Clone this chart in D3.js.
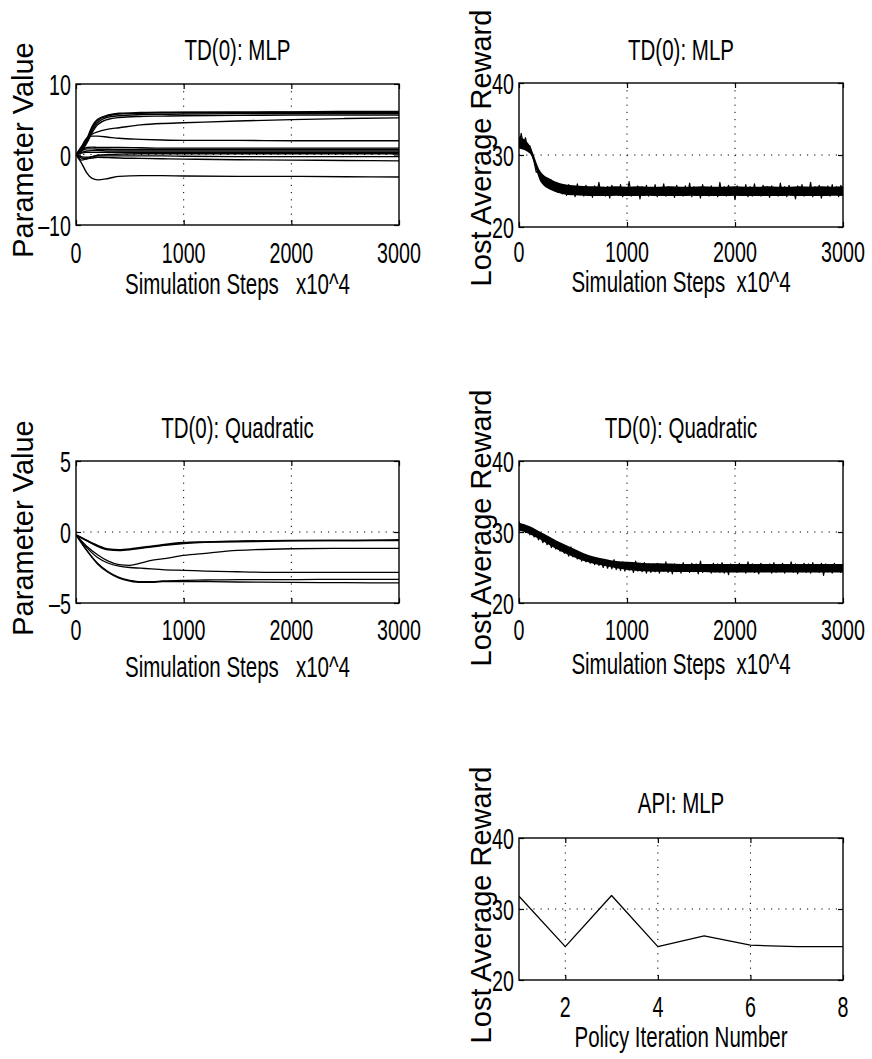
<!DOCTYPE html>
<html><head><meta charset="utf-8">
<script src="https://cdn.jsdelivr.net/npm/d3@7"></script>
<style>body{margin:0;background:#fff} svg{display:block}</style>
</head><body>
<svg id="c" width="872" height="1059"></svg>
<script>
// ---------------- DATA ----------------
const paramSteps = [0, 50, 100, 150, 200, 300, 400, 600, 800, 1000, 1500, 2000, 2500, 3000];
const mlpParams = [
  [0, 0.8, 2.2, 4.0, 5.0, 5.6, 5.85, 5.95, 6.0, 6.0, 6.0, 6.05, 6.1, 6.1],
  [0, 0.7, 2.0, 3.7, 4.8, 5.5, 5.75, 5.85, 5.9, 5.95, 6.0, 6.0, 6.0, 6.0],
  [0, 0.6, 1.8, 3.4, 4.5, 5.3, 5.5, 5.65, 5.7, 5.75, 5.8, 5.85, 5.85, 5.85],
  [0, 0.5, 1.6, 3.1, 4.2, 5.0, 5.25, 5.4, 5.45, 5.5, 5.55, 5.6, 5.6, 5.6],
  [0, 0.7, 2.3, 2.9, 3.2, 3.6, 3.8, 4.2, 4.4, 4.5, 4.75, 4.95, 5.1, 5.2],
  [0, 1.1, 2.3, 2.6, 2.6, 2.45, 2.3, 2.15, 2.05, 2.0, 2.0, 1.95, 1.95, 1.95],
  [0, 0.6, 1.0, 1.05, 1.0, 1.0, 1.0, 0.95, 0.9, 0.9, 0.9, 0.9, 0.9, 0.9],
  [0, 0.5, 0.8, 0.8, 0.75, 0.75, 0.7, 0.7, 0.7, 0.7, 0.7, 0.7, 0.7, 0.7],
  [0, 0.3, 0.5, 0.55, 0.55, 0.5, 0.5, 0.5, 0.5, 0.5, 0.5, 0.5, 0.5, 0.5],
  [0, 0.2, 0.3, 0.3, 0.3, 0.3, 0.3, 0.3, 0.3, 0.3, 0.3, 0.3, 0.3, 0.3],
  [0, -0.8, -0.6, -0.3, -0.1, 0.0, 0.05, 0.1, 0.1, 0.1, 0.1, 0.1, 0.1, 0.1],
  [0, -0.3, -0.4, -0.3, -0.2, -0.2, -0.2, -0.2, -0.2, -0.25, -0.3, -0.3, -0.3, -0.3],
  [0, -0.5, -0.6, -0.5, -0.4, -0.45, -0.5, -0.55, -0.6, -0.65, -0.75, -0.8, -0.85, -0.9],
  [0, -1.2, -2.6, -3.4, -3.6, -3.4, -3.1, -3.0, -3.0, -3.05, -3.1, -3.1, -3.15, -3.2]
];

const quadSteps = [0, 100, 200, 300, 400, 500, 600, 700, 800, 1000, 1200, 1500, 2000, 2500, 3000];
const quadParams = [
  [-0.2, -0.6, -0.95, -1.2, -1.25, -1.2, -1.1, -1.0, -0.9, -0.75, -0.7, -0.65, -0.6, -0.6, -0.55],
  [-0.2, -0.6, -1.0, -1.25, -1.3, -1.25, -1.15, -1.05, -0.95, -0.8, -0.72, -0.68, -0.62, -0.6, -0.6],
  [-0.2, -1.0, -1.6, -2.05, -2.3, -2.35, -2.2, -2.0, -1.9, -1.65, -1.5, -1.3, -1.18, -1.15, -1.15],
  [-0.2, -1.1, -1.8, -2.2, -2.4, -2.5, -2.55, -2.6, -2.65, -2.7, -2.75, -2.8, -2.85, -2.85, -2.85],
  [-0.2, -1.3, -2.2, -2.8, -3.2, -3.4, -3.5, -3.5, -3.45, -3.4, -3.38, -3.35, -3.35, -3.33, -3.33],
  [-0.2, -1.3, -2.25, -2.85, -3.25, -3.45, -3.55, -3.55, -3.5, -3.5, -3.5, -3.52, -3.55, -3.57, -3.58]
];

// noisy reward traces: sampled every 20 steps
const rewardStepInterval = 20;
const mlpReward = [
  31.2, 33.0, 31.5, 32.4, 30.9, 31.3, 30.2, 29.0, 27.6, 27.9,
  26.4, 27.2, 25.9, 26.8, 25.4, 26.5, 25.2, 26.1, 24.8, 25.9, 24.6,
  25.7, 24.4, 25.9, 24.5, 25.6, 24.2, 26.0, 24.6, 25.5, 24.3,
  25.8, 24.5, 25.4, 24.1, 25.7, 24.6, 26.2, 24.4, 25.5, 24.3,
  25.6, 24.0, 25.8, 24.5, 25.3, 24.4, 25.9, 24.2, 25.5, 24.6,
  26.3, 24.3, 25.4, 24.5, 25.7, 23.9, 25.6, 24.4, 25.8, 24.3,
  25.5, 24.6, 25.9, 24.2, 25.4, 24.5, 26.0, 24.3, 25.6, 24.4,
  25.5, 24.1, 25.8, 24.6, 25.3, 24.3, 25.7, 24.5, 26.1, 24.2,
  25.6, 24.4, 25.5, 24.0, 25.9, 24.5, 25.4, 24.3, 25.7, 24.6,
  25.5, 24.2, 26.2, 24.4, 25.6, 24.3, 25.8, 24.5, 25.4, 23.8,
  25.7, 24.4, 25.5, 24.6, 25.9, 24.2, 25.6, 24.3, 26.0, 24.5,
  25.4, 24.3, 25.8, 24.4, 25.6, 24.1, 25.7, 24.5, 25.5, 24.3,
  26.1, 24.4, 25.6, 24.2, 25.8, 24.6, 25.4, 23.9, 25.7, 24.4,
  25.9, 24.3, 25.5, 24.5, 26.2, 24.2, 25.6, 24.4, 25.8, 24.0,
  25.5, 24.4, 25.7, 24.3, 25.9, 24.5, 25.6, 24.2, 25.8, 24.4
];
const quadReward = [
  31.5, 30.2, 31.0, 29.9, 30.6, 29.6, 30.3, 29.3, 30.0, 28.9,
  29.5, 28.5, 29.2, 28.2, 28.8, 27.8, 28.6, 27.6, 28.3, 27.3,
  28.0, 27.0, 27.7, 26.6, 27.9, 26.5, 27.2, 26.2, 26.9, 25.9,
  26.8, 25.8, 26.5, 25.6, 26.3, 25.4, 26.2, 25.3, 25.9, 25.0,
  25.9, 24.9, 25.7, 24.8, 26.1, 24.7, 25.6, 24.6, 25.8, 24.5,
  25.6, 24.6, 25.4, 24.3, 25.9, 24.5, 25.5, 24.4, 25.7, 24.2,
  25.5, 24.3, 25.4, 24.4, 25.6, 24.2, 25.3, 24.5, 25.8, 24.3,
  25.4, 24.1, 25.5, 24.4, 25.3, 24.2, 25.7, 24.5, 25.4, 24.3,
  25.6, 24.4, 25.5, 24.1, 25.9, 24.3, 25.4, 24.5, 25.3, 24.2,
  25.6, 24.4, 25.5, 24.3, 25.7, 24.2, 25.4, 24.0, 25.5, 24.4,
  25.3, 24.3, 25.6, 24.5, 25.4, 24.2, 25.8, 24.4, 25.5, 24.3,
  25.4, 24.1, 25.6, 24.4, 25.3, 24.5, 25.5, 24.2, 25.7, 24.3,
  25.4, 24.4, 25.6, 24.2, 25.3, 24.5, 25.8, 24.3, 25.5, 24.1,
  25.4, 24.4, 25.6, 24.3, 25.5, 24.2, 25.7, 24.4, 25.4, 24.3,
  25.6, 23.9, 25.5, 24.4, 25.3, 24.2, 25.6, 24.5, 25.4, 24.3,
  25.5
];
// dense core of the noisy traces (low / high edge), sampled every 100 steps
const envelopeStepInterval = 100;
const mlpRewardLo = [30.9, 30.2, 26.3, 25.1, 24.6, 24.4, 24.35, 24.3, 24.3, 24.35, 24.3, 24.3, 24.35, 24.3, 24.3, 24.3, 24.35, 24.3, 24.3, 24.3, 24.35, 24.3, 24.3, 24.3, 24.3, 24.35, 24.3, 24.3, 24.3, 24.35, 24.3];
const mlpRewardHi = [32.6, 31.3, 27.7, 26.6, 26.0, 25.8, 25.7, 25.65, 25.6, 25.65, 25.6, 25.65, 25.6, 25.6, 25.65, 25.6, 25.6, 25.65, 25.6, 25.6, 25.65, 25.6, 25.6, 25.65, 25.6, 25.6, 25.65, 25.6, 25.65, 25.6, 25.65];
const quadRewardLo = [30.2, 29.7, 28.9, 28.0, 27.2, 26.5, 25.9, 25.5, 25.2, 24.9, 24.7, 24.5, 24.45, 24.4, 24.4, 24.35, 24.35, 24.35, 24.3, 24.3, 24.3, 24.3, 24.3, 24.3, 24.3, 24.3, 24.3, 24.3, 24.3, 24.3, 24.3];
const quadRewardHi = [31.3, 30.8, 30.0, 29.2, 28.4, 27.7, 27.0, 26.5, 26.2, 25.9, 25.8, 25.7, 25.6, 25.6, 25.55, 25.5, 25.5, 25.5, 25.5, 25.5, 25.5, 25.5, 25.5, 25.5, 25.5, 25.5, 25.5, 25.5, 25.5, 25.5, 25.5];

const apiIterations = [1, 2, 3, 4, 5, 6, 7, 8];
const apiReward = [31.8, 24.7, 31.9, 24.7, 26.2, 24.9, 24.7, 24.7];

const stepTicks = [0, 1000, 2000, 3000];
const mlpParamTicks = [-10, 0, 10];
const quadParamTicks = [-5, 0, 5];
const rewardTicks = [20, 30, 40];
const iterTicks = [2, 4, 6, 8];

const titles = ["TD(0): MLP", "TD(0): MLP", "TD(0): Quadratic", "TD(0): Quadratic", "API: MLP"];
const xLabels = ["Simulation Steps   x10^4", "Simulation Steps  x10^4", "Simulation Steps   x10^4", "Simulation Steps  x10^4", "Policy Iteration Number"];
const yLabels = ["Parameter Value", "Lost Average Reward", "Parameter Value", "Lost Average Reward", "Lost Average Reward"];

// ---------------- DRAWING ----------------
const svg = d3.select("#c");
const REG = "'Liberation Sans',Arial,Helvetica,sans-serif";
const fmt = v => (v < 0 ? "\u2013" : "") + Math.abs(v);

// condensed, tall text like the original figure's Helvetica-Narrow labels
function stretchedText(parent, x, y, str, anchor, size) {
  return parent.append("text")
    .attr("transform", `translate(${x},${y}) scale(0.82,1.2)`)
    .attr("text-anchor", anchor)
    .style("font-family", REG)
    .style("font-size", size + "px")
    .style("white-space", "pre")
    .attr("fill", "#000")
    .text(str);
}

function drawPanel(o) {
  const x = d3.scaleLinear().domain(o.xDomain).range([o.l, o.r]);
  const y = d3.scaleLinear().domain(o.yDomain).range([o.b, o.t]);
  const g = svg.append("g");
  const cid = "clip" + o.id;
  svg.append("clipPath").attr("id", cid).append("rect")
    .attr("x", o.l).attr("y", o.t).attr("width", o.r - o.l).attr("height", o.b - o.t);

  // dotted grid
  const grid = g.append("g").attr("stroke", "#000").attr("stroke-width", 1)
    .attr("stroke-dasharray", "1.2,6");
  o.xGrid.forEach(v => grid.append("line").attr("x1", x(v)).attr("x2", x(v)).attr("y1", o.t).attr("y2", o.b));
  o.yGrid.forEach(v => grid.append("line").attr("y1", y(v)).attr("y2", y(v)).attr("x1", o.l).attr("x2", o.r));

  const pg = g.append("g").attr("clip-path", `url(#${cid})`);
  // dense core band of noisy traces
  (o.bands || []).forEach(bd => {
    const pts = bd.lo.map((v, i) => [bd.xs[i], v, bd.hi[i]]);
    pg.append("path").datum(pts)
      .attr("d", d3.area().x(d => x(d[0])).y0(d => y(d[1])).y1(d => y(d[2])).curve(d3.curveMonotoneX))
      .attr("fill", "#000");
  });
  // series
  o.series.forEach(s => {
    const pts = s.values.map((v, i) => [s.xs[i], v]);
    pg.append("path").datum(pts)
      .attr("d", d3.line().x(d => x(d[0])).y(d => y(d[1])).curve(s.curve || d3.curveLinear))
      .attr("fill", "none").attr("stroke", s.color || "#000")
      .attr("stroke-width", s.width || 1.2).attr("stroke-linejoin", "round");
  });

  // inward ticks on all four sides
  const tk = 5;
  const axB = g.append("g").attr("transform", `translate(0,${o.b})`).call(d3.axisBottom(x).tickValues(o.xTicks).tickSize(-tk).tickFormat(""));
  const axT = g.append("g").attr("transform", `translate(0,${o.t})`).call(d3.axisTop(x).tickValues(o.xTicks).tickSize(-tk).tickFormat(""));
  const axL = g.append("g").attr("transform", `translate(${o.l},0)`).call(d3.axisLeft(y).tickValues(o.yTicks).tickSize(-tk).tickFormat(""));
  const axR = g.append("g").attr("transform", `translate(${o.r},0)`).call(d3.axisRight(y).tickValues(o.yTicks).tickSize(-tk).tickFormat(""));
  [axB, axT, axL, axR].forEach(a => { a.select(".domain").remove(); a.selectAll("line").attr("stroke", "#000").attr("stroke-width", 1.2); });

  g.append("rect").attr("x", o.l).attr("y", o.t).attr("width", o.r - o.l).attr("height", o.b - o.t)
    .attr("fill", "none").attr("stroke", "#000").attr("stroke-width", 1.4);

  // tick labels
  o.xTicks.forEach(v => stretchedText(g, x(v), o.b + o.xTickOff, fmt(v), "middle", 24));
  o.yTicks.forEach(v => stretchedText(g, o.l - 5, y(v) + 11, fmt(v), "end", 24));

  // title, x label, y label
  stretchedText(g, (o.l + o.r) / 2, o.titleY, o.title, "middle", 25);
  stretchedText(g, (o.l + o.r) / 2, o.xLabelY, o.xLabel, "middle", 25);
  g.append("text")
    .attr("transform", `translate(${o.yLabelX},${o.yLabelY}) rotate(-90)`)
    .attr("text-anchor", "middle")
    .style("font-family", REG).style("font-size", "29px")
    .attr("fill", "#000")
    .text(o.yLabel);
}

const stepXs = (arr, k) => arr.map((_, i) => i * k);

drawPanel({
  id: 1, l: 76, r: 399, t: 84, b: 225,
  xDomain: [0, 3000], yDomain: [-10, 10],
  xTicks: stepTicks, yTicks: mlpParamTicks, xGrid: [1000, 2000], yGrid: [0],
  xTickOff: 38, titleY: 60, xLabelY: 294, yLabelX: 33, yLabelY: 150,
  title: titles[0], xLabel: xLabels[0], yLabel: yLabels[0],
  series: mlpParams.map(v => ({ xs: paramSteps, values: v, curve: d3.curveMonotoneX, width: 1.4 }))
});
drawPanel({
  id: 2, l: 519, r: 843, t: 83, b: 227,
  xDomain: [0, 3000], yDomain: [20, 40],
  xTicks: stepTicks, yTicks: rewardTicks, xGrid: [1000, 2000], yGrid: [30],
  xTickOff: 35, titleY: 60, xLabelY: 292, yLabelX: 491, yLabelY: 148,
  title: titles[1], xLabel: xLabels[1], yLabel: yLabels[1],
  bands: [{ xs: stepXs(mlpRewardLo, envelopeStepInterval), lo: mlpRewardLo, hi: mlpRewardHi }],
  series: [{ xs: stepXs(mlpReward, rewardStepInterval), values: mlpReward, width: 1.2 }]
});
drawPanel({
  id: 3, l: 76, r: 399, t: 461, b: 603,
  xDomain: [0, 3000], yDomain: [-5, 5],
  xTicks: stepTicks, yTicks: quadParamTicks, xGrid: [1000, 2000], yGrid: [0],
  xTickOff: 37, titleY: 438, xLabelY: 677, yLabelX: 33, yLabelY: 528,
  title: titles[2], xLabel: xLabels[2], yLabel: yLabels[2],
  series: quadParams.map((v, i) => ({ xs: quadSteps, values: v, curve: d3.curveMonotoneX, width: i < 2 ? 1.6 : 1.3 }))
});
drawPanel({
  id: 4, l: 519, r: 843, t: 461, b: 603,
  xDomain: [0, 3000], yDomain: [20, 40],
  xTicks: stepTicks, yTicks: rewardTicks, xGrid: [1000, 2000], yGrid: [30],
  xTickOff: 37, titleY: 438, xLabelY: 674, yLabelX: 491, yLabelY: 528,
  title: titles[3], xLabel: xLabels[3], yLabel: yLabels[3],
  bands: [{ xs: stepXs(quadRewardLo, envelopeStepInterval), lo: quadRewardLo, hi: quadRewardHi }],
  series: [{ xs: stepXs(quadReward, rewardStepInterval), values: quadReward, width: 1.2 }]
});
drawPanel({
  id: 5, l: 519, r: 843, t: 838, b: 980,
  xDomain: [1, 8], yDomain: [20, 40],
  xTicks: iterTicks, yTicks: rewardTicks, xGrid: [2, 4, 6], yGrid: [30],
  xTickOff: 37, titleY: 813, xLabelY: 1047, yLabelX: 491, yLabelY: 905,
  title: titles[4], xLabel: xLabels[4], yLabel: yLabels[4],
  series: [{ xs: apiIterations, values: apiReward, width: 1.3 }]
});
</script>
</body></html>
